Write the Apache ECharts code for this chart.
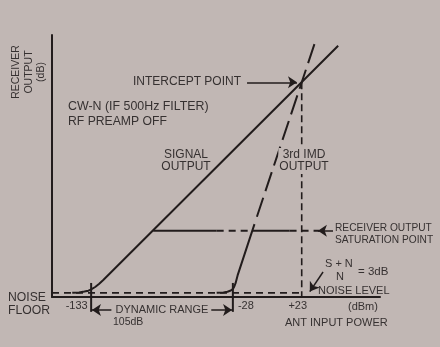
<!DOCTYPE html>
<html>
<head>
<meta charset="utf-8">
<script src="https://cdn.jsdelivr.net/npm/echarts@6/dist/echarts.min.js"></script>
<style>
  html, body { margin: 0; padding: 0; background: #c1b7b4; }
  #chart { width: 440px; height: 347px; }
</style>
</head>
<body>
<div id="chart"></div>
<script>
// Antenna input power (dBm) marked on the horizontal axis
const tickValues = [-133, -28, 23];
const tickLabels = ['-133', '-28', '+23'];

// Edges of the dynamic range (dBm)
const rangeEdges = [-133, -28];

// Receiver output (dB above the noise level) against antenna input (dBm)
const signalOutput = [
  [-147, 0.1], [-142, 0.4], [-138, 1.0], [-135, 1.7], [-133, 2.6],
  [-130, 4.4], [-127, 6.8], [-124, 9.6], [50, 183]
];
// Third-order IMD product: solid below saturation, dashed above it
const imdOutputLow = [
  [-40, 0.1], [-35, 0.4], [-32, 0.9], [-30, 1.6], [-28, 2.9],
  [-27, 4.6], [-26, 7.2], [-24.5, 13], [-12, 51]
];
const imdOutputHigh = [[-10.2, 56.4], [34, 189]];

// Intercept point (input dBm, output dB)
const interceptPoint = [23, 156];

// Noise level and saturation level (dB)
const noiseLevel = 0;
const saturationLevel = 46;
// Saturation line pieces: [from, to] in dBm
const saturationSolid = [[-87, -40], [-13.7, 14]];
const saturationDashed = [[-40, -13.7], [14, 36]];

const paper = '#c1b7b4';
const ink = '#221c1c';
const textInk = '#363131';
const font = "'Liberation Sans', Arial, sans-serif";

const X_MIN = -162, X_MAX = 81, Y_MIN = -3, Y_MAX = 191;

function lineSeries(data, dash, width) {
  return {
    type: 'line',
    data: data,
    symbol: 'none',
    showSymbol: false,
    clip: false,
    silent: true,
    animation: false,
    lineStyle: { color: ink, width: width || 2, type: dash || 'solid', cap: 'butt' },
    z: 3
  };
}

const series = [];
series.push(lineSeries(signalOutput, 'solid', 2));
series.push(lineSeries(imdOutputLow, 'solid', 2));
series.push(lineSeries(imdOutputHigh, [20, 7], 2));
series.push(lineSeries([[X_MIN, noiseLevel], [interceptPoint[0], noiseLevel]], [7, 5], 1.8));
series.push(lineSeries([interceptPoint, [interceptPoint[0], Y_MIN]], [7, 4], 1.6));
saturationSolid.forEach(function (s) {
  series.push(lineSeries([[s[0], saturationLevel], [s[1], saturationLevel]], 'solid', 2));
});
saturationDashed.forEach(function (s) {
  series.push(lineSeries([[s[0], saturationLevel], [s[1], saturationLevel]], [7, 5], 2));
});
rangeEdges.forEach(function (v) {
  series.push(lineSeries([[v, -14], [v, 7.4]], 'solid', 2));
});

// Pointer arrows, in axis units
const arrows = [
  [[-17.5, 156], [19.5, 156]],
  [[46.2, saturationLevel], [35, saturationLevel]],
  [[38.8, 15.5], [29, 1]],
  [[-118, -12.6], [-132.4, -12.6]],
  [[-44, -12.6], [-28.6, -12.6]]
];
series.push({
  type: 'lines',
  coordinateSystem: 'cartesian2d',
  clip: false,
  silent: true,
  animation: false,
  symbol: ['none', 'arrow'],
  symbolSize: [6, 9],
  lineStyle: { color: ink, width: 1.5, opacity: 1, curveness: 0 },
  data: arrows.map(function (a) { return { coords: a }; }),
  z: 4
});

function txt(x, y, s, size, align, extra) {
  const el = {
    type: 'text',
    x: x, y: y,
    silent: true,
    z: 10,
    style: {
      text: s,
      fill: textInk,
      fontSize: size,
      fontFamily: font,
      align: align || 'left',
      textAlign: align || 'left',
      verticalAlign: 'middle',
      textVerticalAlign: 'middle',
      lineHeight: Math.round(size * 1.1)
    }
  };
  if (extra) {
    Object.assign(el.style, extra.style || {});
    if (extra.rotation) el.rotation = extra.rotation;
  }
  return el;
}

const texts = [
  txt(29, 72, 'RECEIVER\nOUTPUT\n(dB)', 10.5, 'center', { rotation: Math.PI / 2, style: { lineHeight: 12.5 } }),
  txt(133, 82, 'INTERCEPT POINT', 12),
  txt(68, 107, 'CW-N (IF 500Hz FILTER)', 12.4),
  txt(68, 122, 'RF PREAMP OFF', 12.2),
  txt(186, 161, 'SIGNAL\nOUTPUT', 12, 'center', { style: { lineHeight: 12 } }),
  txt(304, 161, '3rd IMD\nOUTPUT', 12, 'center', { style: { lineHeight: 12, backgroundColor: paper, padding: [1, 1] } }),
  txt(335, 234, 'RECEIVER OUTPUT\nSATURATION POINT', 10.2, 'left', { style: { lineHeight: 12.5 } }),
  txt(325, 264, 'S + N', 11),
  txt(340, 277, 'N', 11, 'center'),
  txt(358, 272, '= 3dB', 11.5),
  txt(318, 291, 'NOISE LEVEL', 11),
  txt(8, 304, 'NOISE\nFLOOR', 12.2, 'left', { style: { lineHeight: 12.5 } }),
  txt(162, 310, 'DYNAMIC RANGE', 11, 'center'),
  txt(113, 322, '105dB', 10.5),
  txt(348, 307, '(dBm)', 11),
  txt(285, 323, 'ANT INPUT POWER', 11)
];

const chart = echarts.init(document.getElementById('chart'), null, { renderer: 'canvas' });
chart.setOption({
  animation: false,
  backgroundColor: paper,
  grid: { left: 52, right: 60, top: 35, bottom: 50, containLabel: false },
  xAxis: {
    type: 'value',
    min: X_MIN, max: X_MAX,
    axisLine: { onZero: false, lineStyle: { color: ink, width: 2 } },
    axisTick: { show: false },
    splitLine: { show: false },
    axisLabel: {
      customValues: tickValues,
      margin: 3,
      color: textInk,
      fontSize: 11,
      fontFamily: font,
      formatter: function (v) {
        const i = tickValues.indexOf(v);
        return '{t' + i + '|' + tickLabels[i] + '}';
      },
      rich: {
        t0: { padding: [0, 29, 0, 0], fontSize: 11, color: textInk, fontFamily: font },
        t1: { padding: [0, 0, 0, 26], fontSize: 11, color: textInk, fontFamily: font },
        t2: { padding: [0, 8, 0, 0], fontSize: 11, color: textInk, fontFamily: font }
      }
    }
  },
  yAxis: {
    type: 'value',
    min: Y_MIN, max: Y_MAX,
    axisLine: { show: true, onZero: false, lineStyle: { color: ink, width: 2 } },
    axisTick: { show: false },
    axisLabel: { show: false },
    splitLine: { show: false }
  },
  graphic: texts,
  series: series
});
</script>
</body>
</html>
